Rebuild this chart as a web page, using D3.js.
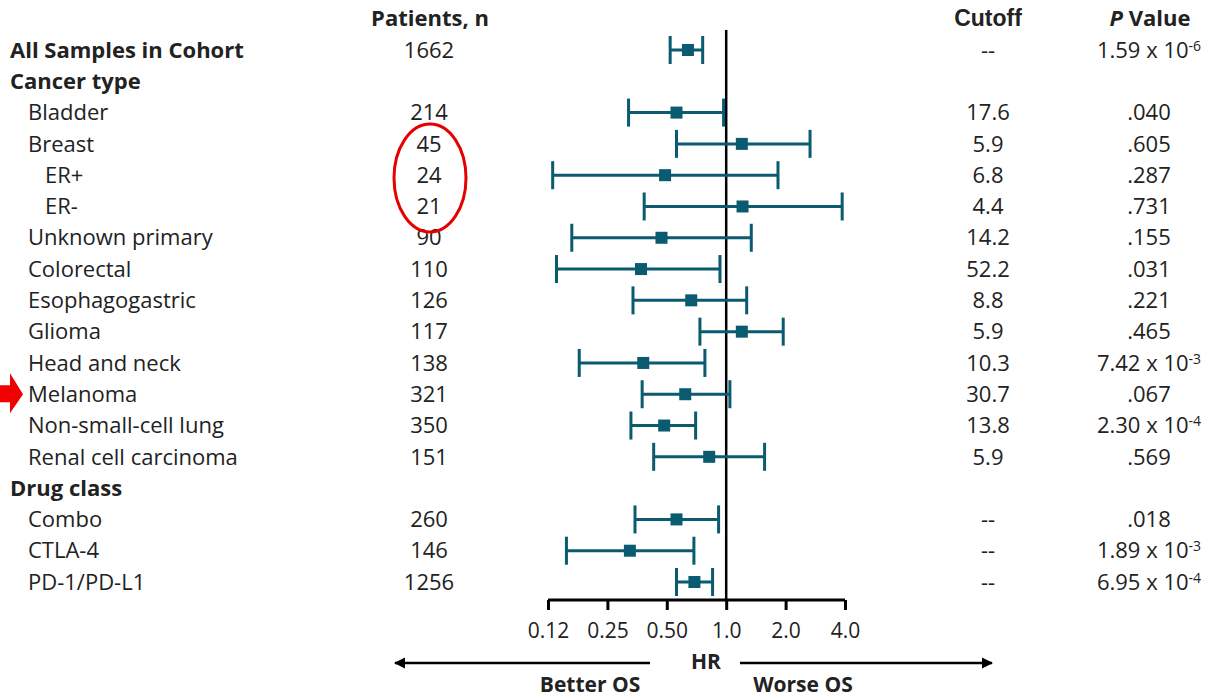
<!DOCTYPE html>
<html>
<head>
<meta charset="utf-8">
<script src="https://cdn.jsdelivr.net/npm/d3@7"></script>
<style>
  body { margin: 0; background: #fff; }
  svg { font-family: "Open Sans", sans-serif; }
</style>
</head>
<body>
<div class="forest"></div>
<script>
// rows of the table, top to bottom
const rowLabels = ["All Samples in Cohort", "Cancer type", "Bladder", "Breast", "ER+", "ER-",
  "Unknown primary", "Colorectal", "Esophagogastric", "Glioma", "Head and neck", "Melanoma",
  "Non-small-cell lung", "Renal cell carcinoma", "Drug class", "Combo", "CTLA-4", "PD-1/PD-L1"]
// 0 = bold header, 1 = category, 2 = subgroup
const rowLevel = [0, 0, 1, 1, 2, 2, 1, 1, 1, 1, 1, 1, 1, 1, 0, 1, 1, 1]
const patients = ["1662", "", "214", "45", "24", "21", "90", "110", "126", "117", "138", "321",
  "350", "151", "", "260", "146", "1256"]
const cutoffs = ["--", "", "17.6", "5.9", "6.8", "4.4", "14.2", "52.2", "8.8", "5.9", "10.3",
  "30.7", "13.8", "5.9", "", "--", "--", "--"]
const pValues = ["1.59 x 10^-6", "", ".040", ".605", ".287", ".731", ".155", ".031", ".221",
  ".465", "7.42 x 10^-3", ".067", "2.30 x 10^-4", ".569", "", ".018", "1.89 x 10^-3", "6.95 x 10^-4"]
// hazard ratios and 95% CI (null for header rows)
const hr = [0.64, null, 0.56, 1.20, 0.49, 1.21, 0.47, 0.37, 0.665, 1.20, 0.38, 0.62, 0.485,
  0.82, null, 0.56, 0.325, 0.69]
const ciLow = [0.52, null, 0.32, 0.56, 0.132, 0.384, 0.165, 0.138, 0.337, 0.736, 0.18, 0.375,
  0.329, 0.429, null, 0.345, 0.155, 0.56]
const ciHigh = [0.76, null, 0.97, 2.66, 1.83, 3.87, 1.34, 0.93, 1.27, 1.945, 0.78, 1.044, 0.70,
  1.565, null, 0.915, 0.686, 0.853]
const tickValues = [0.125, 0.25, 0.5, 1, 2, 4]
const tickLabels = ["0.12", "0.25", "0.50", "1.0", "2.0", "4.0"]

const width = 1228, height = 700
const teal = "#0a5a70", ink = "#222"

let svg = d3.select(".forest").append("svg")
  .attr("width", width).attr("height", height)

let y = d3.scaleLinear().domain([0, rowLabels.length - 1]).range([50, 582])
let x = d3.scaleLog().base(2).domain([0.125, 4]).range([548, 845])

let rows = rowLabels.map((d, i) => ({
  label: d, level: rowLevel[i], n: patients[i], cutoff: cutoffs[i], p: pValues[i],
  hr: hr[i], lo: ciLow[i], hi: ciHigh[i], i: i
}))

// column headers
let head = svg.append("g").attr("font-weight", "bold").attr("font-size", 22).attr("fill", ink)
  .attr("text-anchor", "middle")
head.append("text").attr("x", 430).attr("y", 26).text("Patients, n")
head.append("text").attr("x", 988).attr("y", 26).attr("font-family", "'Liberation Sans Narrow', sans-serif")
  .attr("font-size", 23).text("Cutoff")
let ph = head.append("text").attr("x", 1150).attr("y", 26)
ph.append("tspan").attr("font-style", "italic").text("P")
ph.append("tspan").text(" Value")

// row labels and columns
let txt = svg.append("g").attr("font-size", 22).attr("fill", ink)
txt.selectAll("text.label").data(rows).join("text")
  .attr("class", "label")
  .attr("x", d => d.level == 0 ? 10 : d.level == 1 ? 28 : 45)
  .attr("y", d => y(d.i)).attr("dy", "0.35em")
  .attr("font-weight", d => d.level == 0 ? "bold" : null)
  .text(d => d.label)
txt.selectAll("text.n").data(rows).join("text")
  .attr("class", "n").attr("text-anchor", "middle")
  .attr("x", 429).attr("y", d => y(d.i)).attr("dy", "0.35em")
  .text(d => d.n)
txt.selectAll("text.cut").data(rows).join("text")
  .attr("class", "cut").attr("text-anchor", "middle")
  .attr("x", 988).attr("y", d => y(d.i)).attr("dy", "0.35em")
  .text(d => d.cutoff)
txt.selectAll("text.p").data(rows).join("text")
  .attr("class", "p").attr("text-anchor", "middle")
  .attr("x", 1149).attr("y", d => y(d.i)).attr("dy", "0.35em")
  .each(function(d) {
    let parts = d.p.split("^")
    let t = d3.select(this)
    t.append("tspan").text(parts[0])
    if (parts[1]) t.append("tspan").attr("dy", "-0.5em").attr("font-size", 14).text(parts[1])
  })

// reference line at HR = 1
svg.append("line")
  .attr("x1", x(1)).attr("x2", x(1)).attr("y1", 30).attr("y2", 600)
  .attr("stroke", "black").attr("stroke-width", 2.5)

// confidence intervals
let ci = svg.append("g").attr("stroke", teal).attr("stroke-width", 3)
let est = rows.filter(d => d.hr != null)
ci.selectAll("line.ci").data(est).join("line").attr("class", "ci")
  .attr("x1", d => x(d.lo)).attr("x2", d => x(d.hi))
  .attr("y1", d => y(d.i)).attr("y2", d => y(d.i))
ci.selectAll("line.capl").data(est).join("line").attr("class", "capl")
  .attr("x1", d => x(d.lo)).attr("x2", d => x(d.lo))
  .attr("y1", d => y(d.i) - 14).attr("y2", d => y(d.i) + 14)
ci.selectAll("line.caph").data(est).join("line").attr("class", "caph")
  .attr("x1", d => x(d.hi)).attr("x2", d => x(d.hi))
  .attr("y1", d => y(d.i) - 14).attr("y2", d => y(d.i) + 14)
svg.append("g").selectAll("rect").data(est).join("rect")
  .attr("x", d => x(d.hr) - 6).attr("y", d => y(d.i) - 6)
  .attr("width", 12).attr("height", 12).attr("fill", teal)

// HR axis
let axis = svg.append("g").attr("transform", "translate(0,600)")
  .call(d3.axisBottom(x).tickValues(tickValues).tickFormat((d, i) => tickLabels[i])
    .tickSize(10).tickSizeOuter(0))
axis.selectAll("path, line").attr("stroke", "black").attr("stroke-width", 3)
axis.select(".domain").attr("d", `M${x(0.125)},0H${x(4)}`)
axis.selectAll("text").attr("font-size", 21).attr("fill", ink)
  .attr("font-family", "'Open Sans', sans-serif").attr("dy", "0.3em").attr("y", 32)

// arrows under the axis
svg.append("defs").append("marker").attr("id", "head")
  .attr("viewBox", "0 0 10 10").attr("refX", 9).attr("refY", 5)
  .attr("markerWidth", 4.5).attr("markerHeight", 4.5).attr("orient", "auto-start-reverse")
  .append("path").attr("d", "M0,0L10,5L0,10z").attr("fill", "black")
svg.append("line").attr("x1", 650).attr("x2", 395).attr("y1", 663).attr("y2", 663)
  .attr("stroke", "black").attr("stroke-width", 2.5).attr("marker-end", "url(#head)")
svg.append("line").attr("x1", 740).attr("x2", 992).attr("y1", 663).attr("y2", 663)
  .attr("stroke", "black").attr("stroke-width", 2.5).attr("marker-end", "url(#head)")
let foot = svg.append("g").attr("font-weight", "bold").attr("font-size", 21).attr("fill", ink)
  .attr("text-anchor", "middle")
foot.append("text").attr("x", 706).attr("y", 662).attr("dy", "0.35em").text("HR")
foot.append("text").attr("x", 590).attr("y", 685).attr("dy", "0.35em").text("Better OS")
foot.append("text").attr("x", 803).attr("y", 685).attr("dy", "0.35em").text("Worse OS")

// annotations: circle around breast counts and arrow at melanoma
svg.append("ellipse").attr("cx", 430).attr("cy", 178).attr("rx", 36).attr("ry", 54)
  .attr("fill", "none").attr("stroke", "#e60000").attr("stroke-width", 3)
svg.append("path").attr("d", `M0,${y(11) - 9}H10V${y(11) - 21}L23,${y(11)}L10,${y(11) + 19}V${y(11) + 8}H0Z`)
  .attr("fill", "#f00000")
</script>
</body>
</html>
